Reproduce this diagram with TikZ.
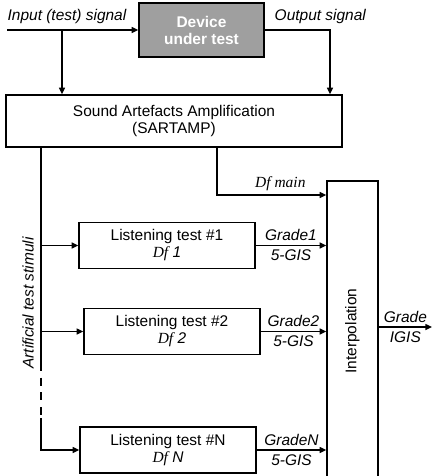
\documentclass[tikz,border=0pt]{standalone}
\usepackage{fontspec}
\setmainfont{Liberation Sans}
\newfontfamily\timesfont{Liberation Serif}
\usetikzlibrary{arrows.meta, positioning}
\newcommand{\dff}{{\timesfont\itshape Df} }

\begin{document}
\begin{tikzpicture}[x=0.75pt, y=-0.75pt, line width=1pt,
    font=\fontsize{11.6}{12.75}\selectfont,
    box/.style={draw, line width=1.1pt, align=center, inner sep=0pt},
    testbox/.style={box, minimum width=132pt, minimum height=34.5pt},
    lab/.style={font=\fontsize{11.6}{12.75}\selectfont\itshape, inner sep=1pt},
    tag/.style={lab, inner sep=3pt},
    arr/.style={-{Triangle[length=5pt, width=4.5pt]}}]
    \useasboundingbox (0,0) rectangle (437,476);

    % main blocks
    \node[box, fill=gray!75, text=white, font=\fontsize{11.6}{12.75}\selectfont\bfseries,
          minimum width=93.75pt, minimum height=40.5pt] (dut) at (201.5,30) {Device\\under test};
    \node[box, minimum width=252pt, minimum height=39pt] (sar) at (174,121)
          {Sound Artefacts Amplification\\(SARTAMP)};
    \node[box, minimum width=38.25pt, minimum height=225pt] (interp) at (352.5,331)
          {\rotatebox{90}{Interpolation}};

    % listening tests
    \node[testbox] (lt1) at (167,245.5) {Listening test \#1\\\dff{\itshape 1}};
    \node[testbox] (lt2) at (172,331.5) {Listening test \#2\\\dff{\itshape 2}};
    \node[testbox] (ltN) at (168,450) {Listening test \#N\\\dff{\itshape N}};

    % free ends and bends
    \coordinate (in) at (7,30);
    \coordinate (inb) at (62,30);
    \coordinate (outb) at (330,30);
    \coordinate (st) at (41,147);
    \coordinate (dashA) at (41,363);
    \coordinate (dashB) at (41,418);
    \coordinate (dm) at (217,147);
    \coordinate (dmc) at (217,195);
    \coordinate (gout) at (432,327);

    % signal path
    \draw[arr] (in) -- (dut);
    \draw[arr] (inb) -- (inb |- sar.north);
    \draw[arr] (dut.east) -- (outb) -- (outb |- sar.north);
    \node[lab, above right=3pt and -1pt of in] (inlab) {Input (test) signal};
    \node[lab, above right=3pt and 6pt of dut.east] (outlab) {Output signal};

    % artificial stimuli
    \draw (st) -- (dashA);
    \draw[dash pattern=on 6pt off 5pt] (dashA) -- (dashB);
    \draw[arr] (dashB) -- (dashB |- ltN.west) -- (ltN.west);
    \draw[arr] (st |- lt1.west) -- (lt1.west);
    \draw[arr] (st |- lt2.west) -- (lt2.west);
    \node[lab, rotate=90] (stim) at (28,303) {Artificial test stimuli};

    % into interpolation
    \draw[arr] (dm) -- (dmc) -- node[tag, above, pos=0.58] {{\timesfont\itshape Df main}} (dmc -| interp.west);
    \draw[arr] (lt1.east) -- node[tag, above] {Grade1} node[tag, below] {5-GIS} (lt1.east -| interp.west);
    \draw[arr] (lt2.east) -- node[tag, above] {Grade2} node[tag, below] {5-GIS} (lt2.east -| interp.west);
    \draw[arr] (ltN.east) -- node[tag, above] {GradeN} node[tag, below] {5-GIS} (ltN.east -| interp.west);

    % result
    \draw[arr] (interp.east |- gout) -- node[tag, above] {Grade} node[tag, below] {IGIS} (gout);
\end{tikzpicture}
\end{document}
